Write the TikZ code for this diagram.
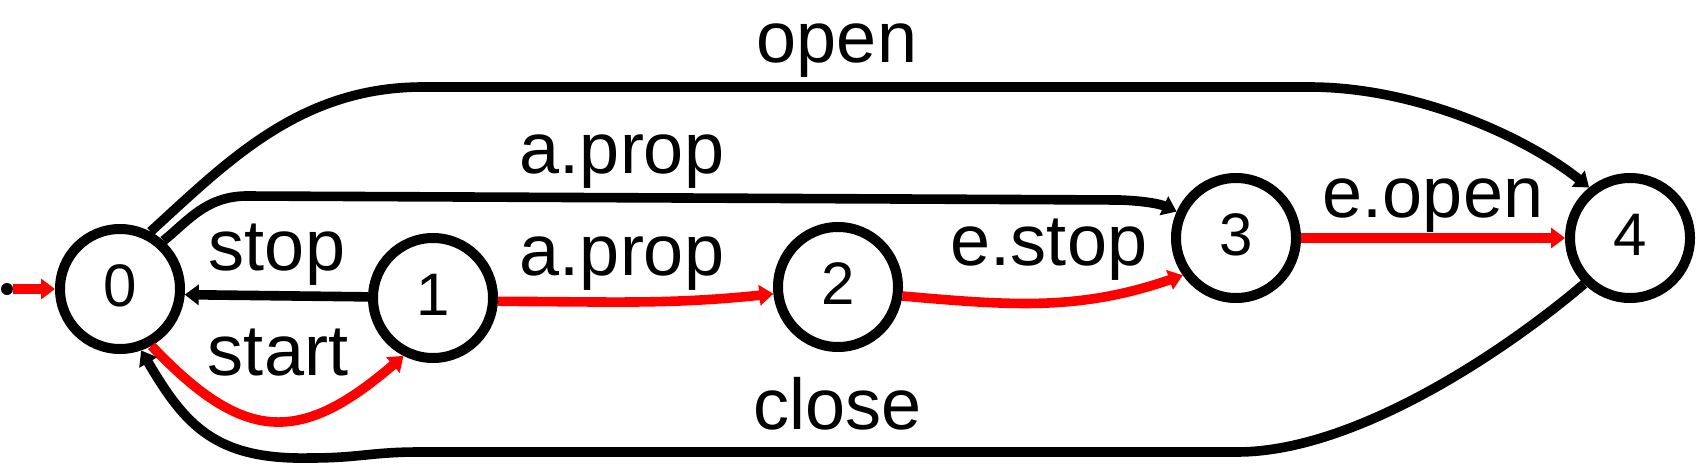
\documentclass[tikz,border=0pt]{standalone}
\usepackage{fontspec}
\setmainfont{Liberation Sans}
\usetikzlibrary{arrows.meta}
\begin{document}
\begin{tikzpicture}[x=0.5pt, y=-0.5pt,
  state/.style={circle, draw, line width=5pt, minimum size=60pt, inner sep=0pt,
    font=\fontsize{30}{34}\selectfont, text height=21.5pt, text depth=4.5pt},
  lab/.style={font=\fontsize{36}{40}\selectfont, inner sep=0pt, anchor=base},
  edge/.style={line width=4.8pt, -{Triangle[length=7pt,width=10pt]}},
  redge/.style={edge, draw=red},
  bedge/.style={edge, draw=black}]
\useasboundingbox (0,0) rectangle (1696,465);

\node[state] (n0) at (120,289) {0};
\node[state] (n1) at (433,298) {1};
\node[state] (n2) at (838,287) {2};
\node[state] (n3) at (1236,238) {3};
\node[state] (n4) at (1630,238) {4};
\node[circle, fill, inner sep=0pt, minimum size=6pt] (init) at (7,289) {};

\draw[redge] (init) -- (n0);
\draw[redge] (n0.-61) .. controls (243,442) and (299,446) .. (n1.-117);
\draw[bedge] (n1.179) -- (n0.-5);
\draw[redge] (n1.-3) to[out=0, in=186] (n2.186);
\draw[redge] (n2.-8) to[out=-5, in=199] (n3.215);
\draw[redge] (n3) -- (n4);
\draw[bedge] (n0.48) .. controls (187,222) and (205,197) .. (245,196) -- (1120,200) .. controls (1145,201) and (1160,204) .. (n3.156);
\draw[bedge] (n0.62) .. controls (228,161) and (300,87) .. (423,87) -- (1309,87) .. controls (1420,87) and (1530,140) .. (n4.129);
\draw[bedge] (n4.-135) .. controls (1509,348) and (1357,452) .. (1237,452) -- (420,452) .. controls (370,452) and (360,458) .. (310,458) .. controls (215,460) and (185,425) .. (n0.-71);

\node[lab] (lopen) at (837,63) {open};
\node[lab] (lap1) at (622,173) {a.prop};
\node[lab] (lstop) at (277,270) {stop};
\node[lab] (lap2) at (622,275) {a.prop};
\node[lab] (lestop) at (1049,265) {e.stop};
\node[lab] (leopen) at (1433,217) {e.open};
\node[lab] (lstart) at (278,375) {start};
\node[lab] (lclose) at (838,429) {close};
\end{tikzpicture}
\end{document}
